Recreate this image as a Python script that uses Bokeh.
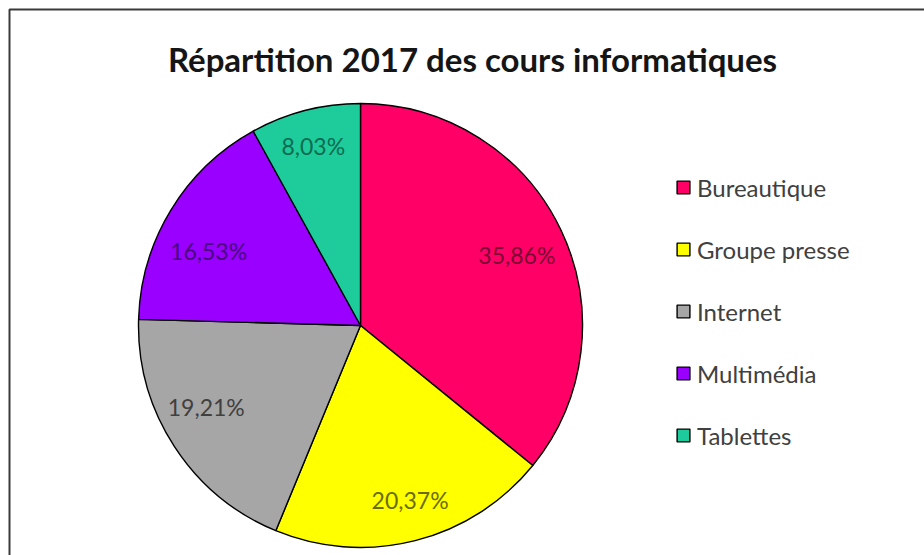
import numpy as np
from bokeh.plotting import figure
from bokeh.models import ColumnDataSource, Label, BoxAnnotation
from bokeh.core.properties import value
from bokeh.embed import file_html
from bokeh.resources import INLINE

# ---- data ----
title_text = "Répartition 2017 des cours informatiques"
categories = ["Bureautique", "Groupe presse", "Internet", "Multimédia", "Tablettes"]
shares = [35.86, 20.37, 19.21, 16.53, 8.03]

# ---- styles ----
slice_colors = ["#FF0066", "#FFFF00", "#A6A6A6", "#9900FF", "#1DCC9A"]
label_colors = ["#7A0034", "#6B6B00", "#404040", "#4A007E", "#0E6B52"]
# small per-label nudges (screen px) mimicking the "best fit" label placement
label_dx = [0, 7, -9, -4, -4]
label_dy = [4, 7, -13, 16, -12]
FONT = "Lato"

W, H = 924, 555
CX, CY = 360, 325     # pie centre, screen px from top-left
RADIUS = 222          # screen px
LABEL_FRAC = 0.78

vals = np.array(shares, dtype=float)
frac = vals / vals.sum()
cum = np.concatenate([[0.0], np.cumsum(frac)])
start = np.pi / 2 - cum[:-1] * 2 * np.pi
end = np.pi / 2 - cum[1:] * 2 * np.pi
mid = (start + end) / 2

src = ColumnDataSource(dict(
    cat=categories,
    start=start,
    end=end,
    color=slice_colors,
    lx=LABEL_FRAC * RADIUS * np.cos(mid),
    ly=LABEL_FRAC * RADIUS * np.sin(mid),
    dx=label_dx,
    dy=label_dy,
    lbl=[f"{v:.2f}".replace(".", ",") + "%" for v in shares],
    lcol=label_colors,
))

# pie centre at data (0,0); ranges are 1:1 with screen pixels
p = figure(width=W, height=H, x_range=(-CX, W - CX), y_range=(-(H - CY), CY),
           output_backend="svg", toolbar_location=None, min_border=0,
           tools="")
p.axis.visible = False
p.grid.visible = False
p.outline_line_color = None
p.background_fill_color = "white"
p.border_fill_color = "white"

# chart frame: top and left edges visible, right/bottom run off the picture
p.add_layout(BoxAnnotation(left=9 - CX, right=W - CX + 20, top=CY - 9,
                           bottom=-(H - CY) - 20, fill_alpha=0,
                           line_color="#3a3a3a", line_alpha=1.0, line_width=2))

p.wedge(x=0, y=0, radius=RADIUS, radius_units="screen",
        start_angle="start", end_angle="end", direction="clock",
        fill_color="color", line_color="black", line_width=1.4,
        source=src, legend_field="cat")

p.text(x="lx", y="ly", x_offset="dx", y_offset="dy", text="lbl", source=src,
       text_color="lcol", text_font=value(FONT), text_font_size="23px",
       text_align="center", text_baseline="middle")

legend = p.legend[0]
legend.location = (675, 105)
legend.orientation = "vertical"
legend.glyph_width = 16
legend.glyph_height = 16
legend.label_height = 30
legend.spacing = 32
legend.label_standoff = 6
legend.padding = 0
legend.margin = 0
legend.border_line_color = None
legend.background_fill_alpha = 0
legend.label_text_font = FONT
legend.label_text_font_size = "24px"
legend.label_text_color = "#404040"

title = Label(x=472, y=H - 58, x_units="screen", y_units="screen",
              text=title_text, text_font=FONT, text_font_size="33px",
              text_font_style="bold", text_color="#151515",
              text_align="center", text_baseline="alphabetic")
p.add_layout(title)

open("out.html", "w").write(file_html(p, INLINE))
